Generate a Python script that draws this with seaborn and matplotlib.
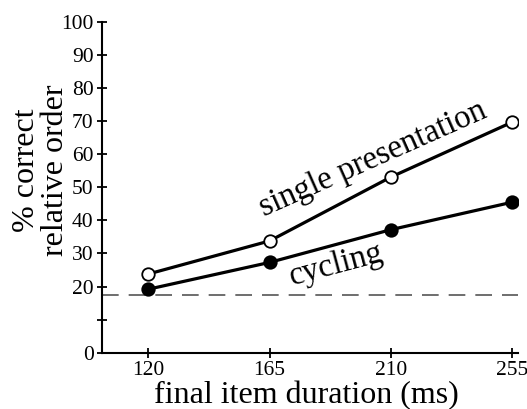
import numpy as np
import pandas as pd
import seaborn as sns
from matplotlib import pyplot as plt

# values
durations = [120, 165, 210, 255]
single_presentation = [23.8, 33.8, 53.1, 69.7]
cycling = [19.2, 27.3, 37.2, 45.5]
chance_level = 17.5
ytick_values = [0, 10, 20, 30, 40, 50, 60, 70, 80, 90, 100]
ytick_labels = ['0', '', '20', '30', '40', '50', '60', '70', '80', '90', '100']

sns.set_style('ticks')
plt.rcParams['font.family'] = ['Liberation Serif', 'DejaVu Serif']
plt.rcParams['text.color'] = 'black'
plt.rcParams['xtick.color'] = 'black'
plt.rcParams['ytick.color'] = 'black'
plt.rcParams['axes.edgecolor'] = 'black'

df = pd.DataFrame({
    'duration': durations * 2,
    'pct': single_presentation + cycling,
    'condition': ['single presentation'] * 4 + ['cycling'] * 4,
})

fig = plt.figure(figsize=(5.27, 4.09), dpi=100)
ax = fig.add_axes([102 / 527, (409 - 352.7) / 409, 416 / 527, 330.7 / 409])

ax.axhline(chance_level, color='#555555', lw=1.2, dashes=(10, 6), zorder=1)

# open circles for single presentation, filled for cycling
for cond, face in [('single presentation', 'white'), ('cycling', 'black')]:
    sns.lineplot(data=df[df.condition == cond], x='duration', y='pct', ax=ax,
                 color='black', lw=2.3, marker='o', markersize=9,
                 markerfacecolor=face, markeredgecolor='black',
                 markeredgewidth=1.3, zorder=3)

ax.set_xlim(102.8, 257.2)
ax.set_ylim(0, 100)
ax.set_xticks(durations)
ax.set_yticks(ytick_values)
ax.set_yticklabels(ytick_labels)
ax.set_xlabel('')
ax.set_ylabel('')
sns.despine(ax=ax)
for sp in ['left', 'bottom']:
    ax.spines[sp].set_linewidth(1.5)
ax.tick_params(direction='inout', length=7, width=1.3, labelsize=15.5, pad=2.5)

ax.text(204.7, 56.2, 'single presentation', rotation=24, rotation_mode='anchor',
        ha='center', va='baseline', fontsize=23.5)
ax.text(190.7, 24.2, 'cycling', rotation=15, rotation_mode='anchor',
        ha='center', va='baseline', fontsize=23.5)

fig.text(41 / 527, (409 - 170) / 409, '% correct\nrelative order', rotation=90,
         ha='center', va='center', multialignment='center', fontsize=23,
         linespacing=1.0)
fig.text(306.5 / 527, 6 / 409, 'final item duration (ms)', ha='center',
         va='baseline', fontsize=23)

fig.savefig('out.png', dpi=100)
